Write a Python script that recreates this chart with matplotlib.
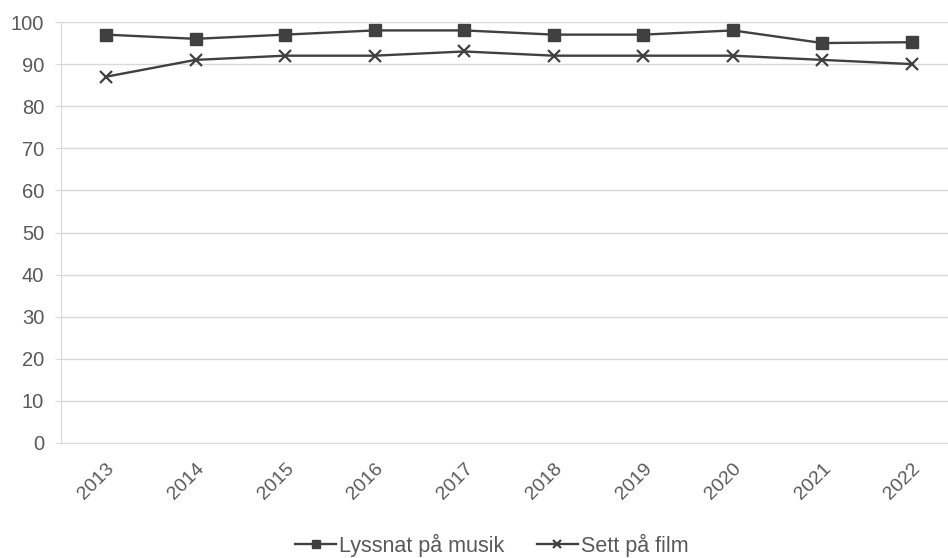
import matplotlib.pyplot as plt
import numpy as np

years = ["2013", "2014", "2015", "2016", "2017", "2018", "2019", "2020", "2021", "2022"]
musik = [97, 96, 97, 98, 98, 97, 97, 98, 95, 95.2]
film = [87, 91, 92, 92, 93, 92, 92, 92, 91, 90]

plt.rcParams['font.family'] = ['Liberation Sans', 'DejaVu Sans']

fig = plt.figure(figsize=(9.48, 5.58), dpi=100)
# plot area runs slightly past the right edge like the reference
ax = fig.add_axes([61.2 / 948, 1 - 443 / 558, (956.8 - 61.2) / 948, 421 / 558])

x = np.arange(len(years))
line_col = "#404040"
ax.plot(x, musik, color=line_col, lw=1.7, marker="s", ms=8, label="Lyssnat på musik")
ax.plot(x, film, color=line_col, lw=1.7, marker="x", ms=8.5, mew=1.6, label="Sett på film")

ax.set_xlim(-0.5, len(years) - 0.5)
ax.set_ylim(0, 100)
ax.set_yticks(range(0, 101, 10))
ax.set_xticks(x)
ax.set_xticklabels(years, rotation=45, ha="right", rotation_mode="anchor")
ax.tick_params(axis="both", colors="#595959")
ax.tick_params(axis="y", length=4.3, color="#d9d9d9", pad=8, labelsize=14.5)
ax.tick_params(axis="x", length=0, pad=12, labelsize=14)

ax.grid(axis="y", color="#d9d9d9", lw=1)
ax.set_axisbelow(True)
for s in ["top", "right"]:
    ax.spines[s].set_visible(False)
ax.spines["left"].set_color("#d9d9d9")
ax.spines["bottom"].set_color("#d9d9d9")

fig.legend(loc="center", bbox_to_anchor=(492 / 948, 1 - 545 / 558), ncol=2, frameon=False,
           fontsize=15.5, labelcolor="#595959", handlelength=1.9, handletextpad=0.15,
           columnspacing=1.5, markerscale=0.65)

fig.savefig("out.png", dpi=100)
